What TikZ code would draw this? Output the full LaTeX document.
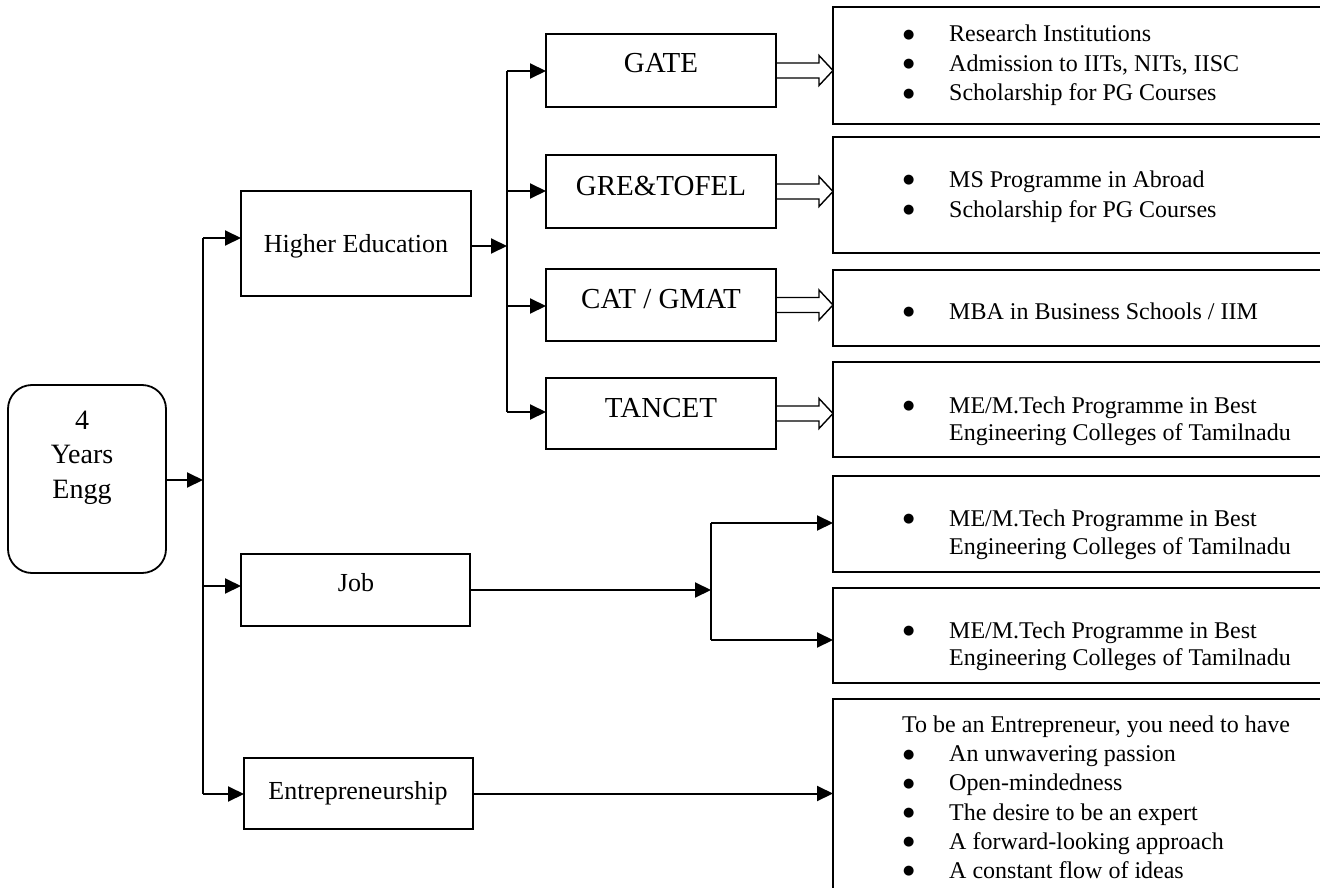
\documentclass[tikz,border=0pt]{standalone}
\usepackage{fontspec}
\setmainfont{Liberation Serif}
\newfontfamily\dejavu{DejaVu Sans}
\usetikzlibrary{arrows.meta}
\tikzset{
  bx/.style={draw, line width=2pt, inner sep=0pt, outer sep=0pt},
  conn/.style={line width=2pt},
  arr/.style={line width=2pt, -{Triangle[length=16pt,width=15pt]}},
  darr/.style={draw, line width=1.4pt, line join=miter},
  big/.style={inner sep=0pt, anchor=base, font=\fontsize{29}{34}\selectfont},
  mid/.style={inner sep=0pt, anchor=base, font=\fontsize{26}{31}\selectfont},
  eng/.style={inner sep=0pt, anchor=base, font=\fontsize{28}{34}\selectfont},
  itm/.style={inner sep=0pt, anchor=base west, font=\fontsize{24}{29}\selectfont},
}
\newcommand{\bitem}[1]{\makebox[46pt][l]{\raisebox{3.5pt}{\dejavu\fontsize{13}{13}\selectfont ●}}#1}
\newcommand{\dblarr}[1]{\draw[darr] (#1.east) ++(0,-7.5) -- ++(43,0) -- ++(0,-7.5) -- ++(14,15) -- ++(-14,15) -- ++(0,-7.5) -- ++(-43,0) -- cycle;}
\begin{document}
\begin{tikzpicture}[x=1pt,y=-1pt]
\useasboundingbox (0,0) rectangle (1320,888);
\clip (0,0) rectangle (1320,888);

% left rounded box
\node[bx, line width=1.8pt, rounded corners=24pt, minimum width=158pt, minimum height=188pt] (engg) at (87,479) {};
\node[eng] (e1) at (82,429) {4};
\node[eng] (e2) at (82,463) {Years};
\node[eng] (e3) at (82,498) {Engg};

% second level boxes
\node[bx, minimum width=230pt, minimum height=105pt] (he) at (356,243.5) {};
\node[mid] (het) at (356,252) {Higher Education};
\node[bx, minimum width=229pt, minimum height=72pt] (job) at (355.5,590) {};
\node[mid] (jobt) at (356,591) {Job};
\node[bx, minimum width=229pt, minimum height=71pt] (ent) at (358.5,793.5) {};
\node[mid] (entt) at (358,799) {Entrepreneurship};

% exam boxes
\node[bx, minimum width=230pt, minimum height=73pt] (gate) at (661,70.5) {};
\node[big] (gatet) at (661,73) {GATE};
\node[bx, minimum width=230pt, minimum height=73pt] (gre) at (661,191.5) {};
\node[big] (gret) at (661,195) {GRE\&TOFEL};
\node[bx, minimum width=230pt, minimum height=72pt] (cat) at (661,305) {};
\node[big] (catt) at (661,308) {CAT / GMAT};
\node[bx, minimum width=230pt, minimum height=71pt] (tan) at (661,413.5) {};
\node[big] (tant) at (661,417) {TANCET};

% right boxes
\node[bx, minimum width=497pt, minimum height=117pt] (r1) at (1081.5,65.5) {};
\node[itm] (r1a) at (903,42) {\bitem{Research Institutions}};
\node[itm] (r1b) at (903,71.5) {\bitem{Admission to IITs, NITs, IISC}};
\node[itm] (r1c) at (903,101) {\bitem{Scholarship for PG Courses}};

\node[bx, minimum width=497pt, minimum height=116pt] (r2) at (1081.5,195) {};
\node[itm] (r2a) at (903,187) {\bitem{MS Programme in Abroad}};
\node[itm] (r2b) at (903,217) {\bitem{Scholarship for PG Courses}};

\node[bx, minimum width=497pt, minimum height=76pt] (r3) at (1081.5,308) {};
\node[itm] (r3a) at (903,319) {\bitem{MBA in Business Schools / IIM}};

\node[bx, minimum width=497pt, minimum height=95pt] (r4) at (1081.5,409.5) {};
\node[itm] (r4a) at (903,413) {\bitem{ME/M.Tech Programme in Best}};
\node[itm] (r4b) at (949,440) {Engineering Colleges of Tamilnadu};

\node[bx, minimum width=497pt, minimum height=96pt] (r5) at (1081.5,524) {};
\node[itm] (r5a) at (903,526) {\bitem{ME/M.Tech Programme in Best}};
\node[itm] (r5b) at (949,554) {Engineering Colleges of Tamilnadu};

\node[bx, minimum width=497pt, minimum height=95pt] (r6) at (1081.5,635.5) {};
\node[itm] (r6a) at (903,638) {\bitem{ME/M.Tech Programme in Best}};
\node[itm] (r6b) at (949,665) {Engineering Colleges of Tamilnadu};

\node[bx, minimum width=497pt, minimum height=221pt] (r7) at (1081.5,809.5) {};
\node[itm] (r7h) at (902,732) {To be an Entrepreneur, you need to have};
\node[itm] (r7a) at (903,761.5) {\bitem{An unwavering passion}};
\node[itm] (r7b) at (903,790.5) {\bitem{Open-mindedness}};
\node[itm] (r7c) at (903,820) {\bitem{The desire to be an expert}};
\node[itm] (r7d) at (903,849) {\bitem{A forward-looking approach}};
\node[itm] (r7e) at (903,878) {\bitem{A constant flow of ideas}};

% main trunk
\coordinate (j0) at (203,480);
\coordinate (vtop) at (203,238);
\coordinate (vjob) at (203,586);
\coordinate (vbot) at (203,794);
\draw[arr] (engg.east |- j0) -- (j0);
\draw[conn] (vtop) -- (vbot);
\draw[arr] (vtop) -- (he.west |- vtop);
\draw[arr] (vjob) -- (job.west |- vjob);
\draw[arr] (vbot) -- (ent.west |- vbot);

% higher education branch
\coordinate (h1) at (507,246);
\coordinate (h1top) at (507,71);
\coordinate (h1b) at (507,191);
\coordinate (h1c) at (507,306);
\coordinate (h1bot) at (507,412);
\draw[arr] (he.east |- h1) -- (h1);
\draw[conn] (h1top) -- (h1bot);
\draw[arr] (h1top) -- (gate.west |- h1top);
\draw[arr] (h1b) -- (gre.west |- h1b);
\draw[arr] (h1c) -- (cat.west |- h1c);
\draw[arr] (h1bot) -- (tan.west |- h1bot);

% open double arrows
\dblarr{gate}
\dblarr{gre}
\dblarr{cat}
\dblarr{tan}

% job branch
\coordinate (k) at (711,590);
\coordinate (ktop) at (711,523);
\coordinate (kbot) at (711,640);
\draw[arr] (job.east |- k) -- (k);
\draw[conn] (ktop) -- (kbot);
\draw[arr] (ktop) -- (r5.west |- ktop);
\draw[arr] (kbot) -- (r6.west |- kbot);

% entrepreneurship
\draw[arr] (ent.east) -- (r7.west |- ent.east);
\end{tikzpicture}
\end{document}
